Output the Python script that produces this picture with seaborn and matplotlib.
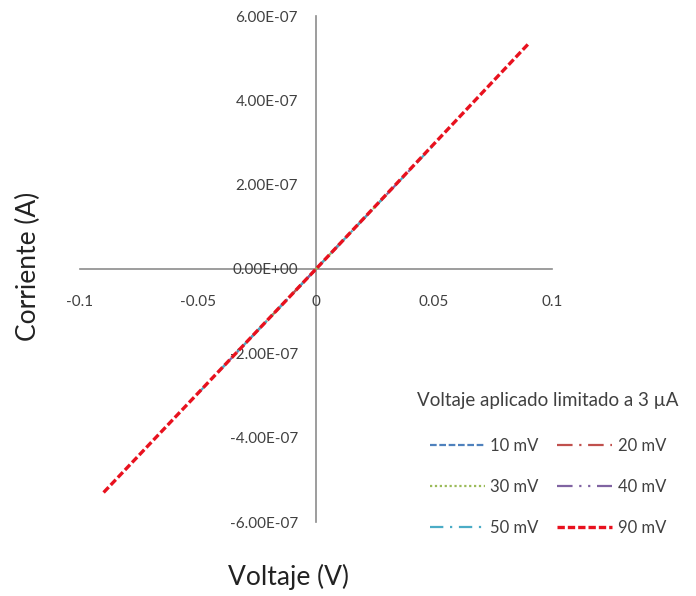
import matplotlib
matplotlib.use("Agg")
import matplotlib.pyplot as plt
from matplotlib.ticker import FuncFormatter, FixedLocator
import seaborn as sns
import pandas as pd

sns.set_theme(style="white")
plt.rcParams["font.family"] = ["Lato", "DejaVu Sans"]

# I-V sweeps: applied voltage (V) and measured current (A), one per sweep range
labels = ["10 mV", "20 mV", "30 mV", "40 mV", "50 mV", "90 mV"]
v_10 = [-0.01, 0.0, 0.01]
i_10 = [-5.9e-8, 0.0, 5.9e-8]
v_20 = [-0.02, 0.0, 0.02]
i_20 = [-1.18e-7, 0.0, 1.18e-7]
v_30 = [-0.03, 0.0, 0.03]
i_30 = [-1.77e-7, 0.0, 1.77e-7]
v_40 = [-0.04, 0.0, 0.04]
i_40 = [-2.36e-7, 0.0, 2.36e-7]
v_50 = [-0.05, 0.0, 0.05]
i_50 = [-2.95e-7, 0.0, 2.95e-7]
v_90 = [-0.09, 0.0, 0.09]
i_90 = [-5.30e-7, 0.0, 5.34e-7]

x_ticks = [-0.1, -0.05, 0, 0.05, 0.1]
y_ticks = [-6e-7, -4e-7, -2e-7, 0, 2e-7, 4e-7, 6e-7]

voltages = [v_10, v_20, v_30, v_40, v_50, v_90]
currents = [i_10, i_20, i_30, i_40, i_50, i_90]

colors = ["#4F81BD", "#C0504D", "#9BBB59", "#8064A2", "#4BACC6", "#E8111E"]
dashes = [(3, 1.2), (7, 3, 1, 3), (1, 1.2), (7, 3, 1, 3, 1, 3), (6, 3, 1, 3), (2.2, 0.9)]
widths = [1.6, 1.6, 1.6, 1.6, 1.6, 2.4]

fig = plt.figure(figsize=(6.96, 5.96), dpi=100)
ax = fig.add_axes([80 / 696, 74 / 596, 472 / 696, 506 / 596])

handles = []
for lab, v, i, c, d, w in zip(labels, voltages, currents, colors, dashes, widths):
    df = pd.DataFrame({"Voltaje": v, "Corriente": i})
    sns.lineplot(data=df, x="Voltaje", y="Corriente", ax=ax, color=c, lw=w,
                 sort=False, estimator=None, label=lab)
    line = ax.get_lines()[-1]
    line.set_dashes(d)
    line.set_dash_capstyle("butt")
    handles.append(line)

ax.set_xlim(-0.1, 0.1)
ax.set_ylim(-6e-7, 6e-7)

# Axes cross at the origin
axis_grey = "#8C8C8C"
for side in ["top", "right"]:
    ax.spines[side].set_visible(False)
ax.spines["left"].set_position(("data", 0))
ax.spines["bottom"].set_position(("data", 0))
for side in ["left", "bottom"]:
    ax.spines[side].set_color(axis_grey)
    ax.spines[side].set_linewidth(1.2)
    ax.spines[side].set_zorder(0)

ax.xaxis.set_major_locator(FixedLocator(x_ticks))
ax.yaxis.set_major_locator(FixedLocator(y_ticks))
ax.xaxis.set_major_formatter(FuncFormatter(lambda v, p: f"{v:g}"))
ax.yaxis.set_major_formatter(FuncFormatter(lambda v, p: f"{v:.2E}"))
ax.tick_params(axis="x", direction="out", length=4, width=1, color=axis_grey,
               labelsize=11, labelcolor="#404040", pad=15)
ax.tick_params(axis="y", direction="out", length=4, width=1, color=axis_grey,
               labelsize=11, labelcolor="#404040", pad=9)
ax.set_xlabel("")
ax.set_ylabel("")

fig.text(288 / 696, 1 - 577 / 596, "Voltaje (V)", fontsize=19, color="#222222",
         ha="center", va="center")
fig.text(28 / 696, 1 - 266 / 596, "Corriente (A)", fontsize=19, color="#222222",
         ha="center", va="center", rotation=90)

order = [0, 2, 4, 1, 3, 5]
leg = ax.legend([handles[k] for k in order], [labels[k] for k in order],
                ncol=2, frameon=False, title="Voltaje aplicado limitado a 3 µA",
                title_fontsize=13.5, fontsize=12, handlelength=3.3,
                labelspacing=1.5, columnspacing=1.1, handletextpad=0.35,
                loc="upper center", bbox_to_anchor=(548 / 696, 1 - 380 / 596),
                bbox_transform=fig.transFigure, borderpad=0.2)
leg.get_title().set_color("#404040")
leg._legend_box.sep = 21
for t in leg.get_texts():
    t.set_color("#404040")

fig.savefig("out.png", dpi=100, facecolor="white")
